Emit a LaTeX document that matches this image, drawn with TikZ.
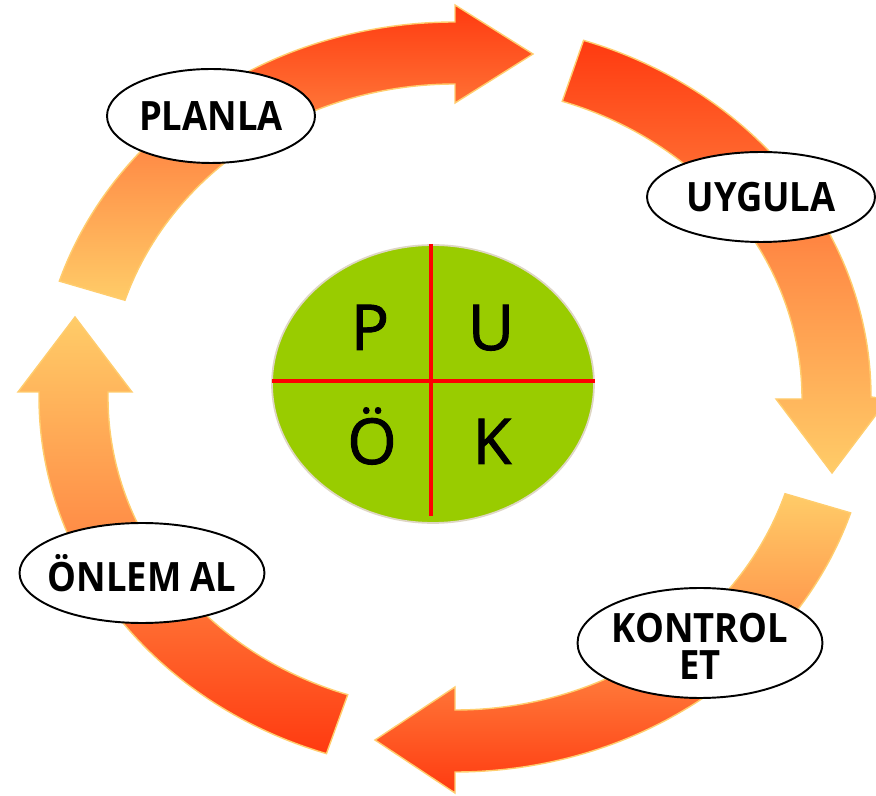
\documentclass[tikz,border=0pt]{standalone}
\usepackage{fontspec}
\setmainfont{Open Sans}
\newfontfamily\lblfont{Open Sans}[FakeStretch=0.9]
\newfontfamily\letfont{Open Sans}[FakeBold=1.5]
\usetikzlibrary{shapes.geometric}
\definecolor{arrRed}{RGB}{255,58,16}
\definecolor{arrMid}{RGB}{255,140,70}
\definecolor{arrLight}{RGB}{255,204,104}
\definecolor{arrEdge}{RGB}{255,205,110}
\definecolor{pukGreen}{RGB}{153,204,0}
\definecolor{pukEdge}{RGB}{222,214,196}
\begin{document}
\begin{tikzpicture}[x=0.02cm,y=0.02cm,
  arrowshape/.style={draw=arrEdge, line width=0.8pt},
  upperarrow/.style={arrowshape, top color=arrRed, bottom color=arrLight, middle color=arrMid},
  lowerarrow/.style={arrowshape, top color=arrLight, bottom color=arrRed, middle color=arrMid},
  lblshape/.style={ellipse, draw=black, line width=1.1pt, fill=white, inner sep=0pt},
  lbltext/.style={inner sep=0pt, font=\lblfont\bfseries\fontsize{23}{21}\selectfont, align=center},
  letter/.style={anchor=base, font=\letfont\fontsize{36}{36}\selectfont},
  crossline/.style={draw=red, line width=2.8pt}
  ]
\useasboundingbox (0,0) rectangle (876,795);
\clip (0,0) rectangle (876,795);
\begin{scope}[shift={(455,398)}]
  % top arrow (PLANLA)
  \path[upperarrow] (162:416 and 375) arc[start angle=162,end angle=90,x radius=416,y radius=375]
    -- (0,392) -- (78,343) -- (0,294) -- (0,313)
    arc[start angle=90,end angle=162,x radius=347,y radius=313] -- cycle;
  % right arrow (UYGULA)
  \path[upperarrow] (72:416 and 375) arc[start angle=72,end angle=0,x radius=416,y radius=375]
    -- (433,-2) -- (377,-76) -- (321,-2) -- (347,-2)
    arc[start angle=0,end angle=72,x radius=347,y radius=313] -- cycle;
  % bottom arrow (KONTROL ET)
  \path[lowerarrow] (-18:416 and 375) arc[start angle=-18,end angle=-90,x radius=416,y radius=375]
    -- (0,-396) -- (-80,-343) -- (0,-290) -- (0,-313)
    arc[start angle=-90,end angle=-18,x radius=347,y radius=313] -- cycle;
  % left arrow (ONLEM AL)
  \path[lowerarrow] (252:416 and 375) arc[start angle=252,end angle=180,x radius=416,y radius=375]
    -- (-416,5) -- (-437,5) -- (-380,80) -- (-323,5) -- (-347,5) -- (-347,0)
    arc[start angle=180,end angle=252,x radius=347,y radius=313] -- cycle;
\end{scope}

% centre ellipse
\node[ellipse, fill=pukGreen, draw=pukEdge, line width=1pt, inner sep=0pt,
  minimum width=6.44cm, minimum height=5.56cm] (puk) at (433,411) {};
\draw[crossline] (431,551) -- (431,279);
\draw[crossline] (272,414) -- (595,414);
\node[letter] (lp) at (370,445) {P};
\node[letter] (lu) at (491,445) {U};
\node[letter] (lo) at (372,331) {Ö};
\node[letter] (lk) at (492,331) {K};

% labels
\node[lblshape, minimum width=4.16cm, minimum height=1.88cm] (planla) at (211,679) {};
\node[lbltext] (tplanla) at (planla.center) {PLANLA};
\node[lblshape, minimum width=4.56cm, minimum height=1.8cm] (uygula) at (761,598) {};
\node[lbltext] (tuygula) at (uygula.center) {UYGULA};
\node[lblshape, minimum width=4.9cm, minimum height=2.2cm] (kontrol) at (700,152) {};
\node[lbltext] (tkontrol) at ([yshift=-2]kontrol.center) {KONTROL\\ET};
\node[lblshape, minimum width=4.9cm, minimum height=2.0cm] (onlem) at (142,222) {};
\node[lbltext] (tonlem) at (onlem.center) {ÖNLEM AL};
\end{tikzpicture}
\end{document}
